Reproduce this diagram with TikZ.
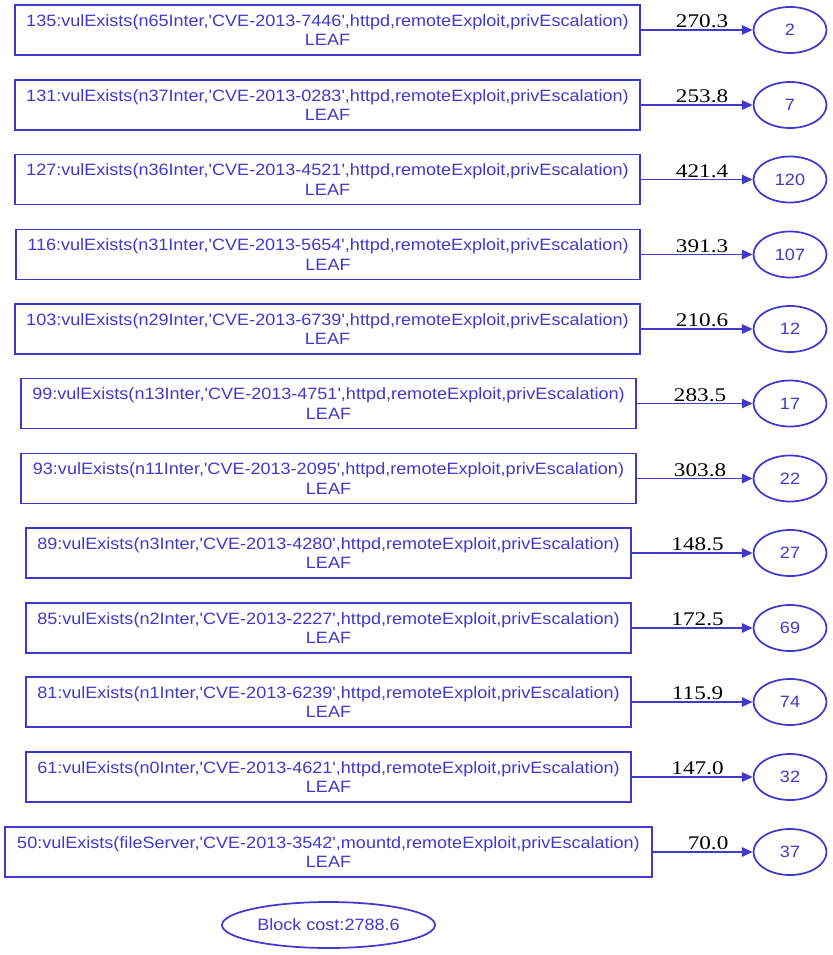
\documentclass[tikz,border=0pt]{standalone}
\usepackage{fontspec}
\setmainfont{Liberation Sans}[Ligatures=ResetAll]
\newfontfamily\labelfont{Liberation Serif}
\usetikzlibrary{arrows.meta,shapes.geometric}
\definecolor{gvblue}{RGB}{66,56,204}
\newcommand{\wide}[2]{\scalebox{#1}[1]{#2}}
\newcommand{\q}{\textquotesingle}
\tikzset{
  leafbox/.style={draw=gvblue, line width=1.3pt, text=gvblue, rectangle, inner sep=0pt,
    minimum height=37.5pt, align=center, font=\fontsize{12.3pt}{14.5pt}\selectfont},
  target/.style={draw=gvblue, line width=1.3pt, text=gvblue, ellipse, inner sep=0pt,
    minimum width=54.75pt, minimum height=34.5pt, font=\fontsize{12.3pt}{14pt}\selectfont},
  edge/.style={draw=gvblue, line width=1.1pt, -{Triangle[length=8pt,width=7pt]}},
  cost/.style={font=\labelfont\fontsize{14.5pt}{15pt}\selectfont, text=black, above, inner sep=1pt, xshift=4pt}
}
\begin{document}
\begin{tikzpicture}[x=0.75pt,y=-0.75pt]
\useasboundingbox (0,0) rectangle (832,955);
\foreach \i/\y/\cx/\w/\lab/\tgt/\c in {
 1/30/327.5/468.75/{135:vulExists(n65Inter,\q CVE-2013-7446\q,httpd,remoteExploit,privEscalation)}/2/270.3,
 2/105/327.5/468.75/{131:vulExists(n37Inter,\q CVE-2013-0283\q,httpd,remoteExploit,privEscalation)}/7/253.8,
 3/179.5/327.5/468.75/{127:vulExists(n36Inter,\q CVE-2013-4521\q,httpd,remoteExploit,privEscalation)}/120/421.4,
 4/254.5/328/468/{116:vulExists(n31Inter,\q CVE-2013-5654\q,httpd,remoteExploit,privEscalation)}/107/391.3,
 5/329/327.5/468.75/{103:vulExists(n29Inter,\q CVE-2013-6739\q,httpd,remoteExploit,privEscalation)}/12/210.6,
 6/403.5/328.5/461.25/{99:vulExists(n13Inter,\q CVE-2013-4751\q,httpd,remoteExploit,privEscalation)}/17/283.5,
 7/478.5/328.5/461.25/{93:vulExists(n11Inter,\q CVE-2013-2095\q,httpd,remoteExploit,privEscalation)}/22/303.8,
 8/553/328.5/453.75/{89:vulExists(n3Inter,\q CVE-2013-4280\q,httpd,remoteExploit,privEscalation)}/27/148.5,
 9/628/328.5/453.75/{85:vulExists(n2Inter,\q CVE-2013-2227\q,httpd,remoteExploit,privEscalation)}/69/172.5,
 10/702/328.5/453.75/{81:vulExists(n1Inter,\q CVE-2013-6239\q,httpd,remoteExploit,privEscalation)}/74/115.9,
 11/777/328.5/453.75/{61:vulExists(n0Inter,\q CVE-2013-4621\q,httpd,remoteExploit,privEscalation)}/32/147.0,
 12/852/328.5/485.25/{50:vulExists(fileServer,\q CVE-2013-3542\q,mountd,remoteExploit,privEscalation)}/37/70.0}
{
  \node[leafbox, minimum width=\w pt] (b\i) at (\cx,\y) {\wide{1.1}{\lab}\\\wide{1.1}{LEAF}};
  \node[target] (t\i) at (790,\y) {\wide{1.1}{\tgt}};
  \draw[edge] (b\i.east) -- node[cost] {\wide{1.2}{\c}} (t\i.west);
}
\node[target, minimum width=159.75pt] (block) at (328.5,925) {\wide{1.1}{Block cost:2788.6}};
\end{tikzpicture}
\end{document}
